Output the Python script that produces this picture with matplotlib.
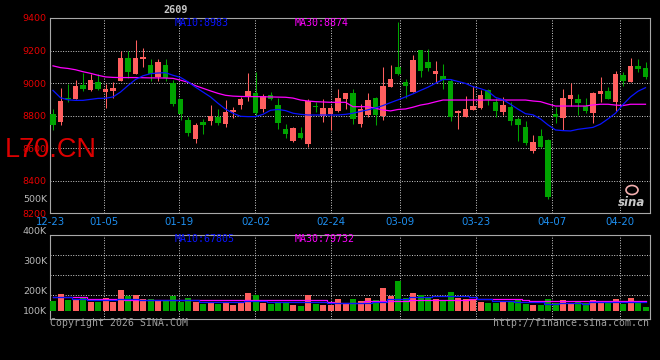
import matplotlib

matplotlib.use("Agg")
import matplotlib.pyplot as plt
from matplotlib.patches import Ellipse

W, H = 660, 360

# daily OHLC (L2609), 12-23 .. 04-24
opens = [8810, 8761, 8911, 8902, 8988, 8958, 9007, 8945, 8954, 9015,
         9156, 9058, 9150, 9111, 9035, 9111, 9001, 8902, 8773, 8659,
         8761, 8767, 8794, 8749, 8825, 8866, 8917, 8939, 8843, 8927,
         8866, 8718, 8646, 8693, 8626, 8857, 8798, 8808, 8829, 8902,
         8939, 8749, 8804, 8909, 8798, 8976, 9099, 9009, 8948, 9203,
         9130, 9054, 9044, 9013, 8818, 8794, 8835, 8845, 8958, 8882,
         8825, 8853, 8780, 8730, 8585, 8675, 8650, 8810, 8788, 8902,
         8902, 8859, 8818, 8933, 8952, 8886, 9050, 9009, 9105, 9093]
highs = [8843, 8970, 8997, 9021, 9064, 9056, 9054, 8993, 9009, 9199,
         9197, 9265, 9218, 9146, 9148, 9150, 9019, 8905, 8790, 8753,
         8779, 8866, 8841, 8896, 8855, 8913, 9060, 9068, 8933, 8943,
         8907, 8749, 8732, 8732, 8900, 8884, 8900, 8866, 8964, 8942,
         8964, 8872, 8939, 8912, 9099, 9111, 9375, 9023, 9173, 9205,
         9210, 9136, 9117, 9025, 8835, 8921, 8982, 8958, 8964, 8907,
         8913, 8882, 8794, 8767, 8681, 8718, 8655, 8855, 8964, 8999,
         8933, 8909, 8945, 9038, 8976, 9074, 9068, 9154, 9148, 9130]
lows = [8712, 8743, 8882, 8900, 8954, 8950, 8958, 8849, 8907, 9015,
        9029, 9058, 9097, 9015, 9015, 9015, 8859, 8771, 8675, 8634,
        8689, 8743, 8743, 8732, 8788, 8841, 8892, 8798, 8825, 8896,
        8716, 8663, 8640, 8659, 8605, 8821, 8763, 8712, 8825, 8841,
        8751, 8732, 8794, 8743, 8773, 8976, 9052, 8910, 8948, 9040,
        9077, 9003, 8964, 8769, 8718, 8794, 8835, 8839, 8866, 8794,
        8804, 8743, 8644, 8620, 8573, 8603, 8288, 8757, 8712, 8859,
        8804, 8818, 8757, 8886, 8902, 8831, 8982, 9009, 9068, 9025]
closes = [8743, 8892, 8900, 8982, 8964, 9019, 8966, 8962, 8972, 9156,
          9066, 9156, 9163, 9056, 9132, 9030, 8872, 8812, 8693, 8743,
          8745, 8798, 8757, 8823, 8835, 8900, 8952, 8819, 8921, 8905,
          8755, 8687, 8726, 8663, 8892, 8851, 8847, 8849, 8909, 8939,
          8780, 8841, 8896, 8804, 8982, 9025, 9056, 8982, 9142, 9077,
          9095, 9074, 9019, 8794, 8829, 8841, 8859, 8927, 8896, 8829,
          8866, 8767, 8743, 8632, 8638, 8608, 8298, 8794, 8909, 8927,
          8878, 8831, 8939, 8952, 8902, 9056, 9013, 9105, 9087, 9040]
ma10 = [8955, 8910, 8897, 8894, 8894, 8900, 8906, 8907, 8915, 8945,
        8985, 9022, 9045, 9058, 9062, 9064, 9048, 9035, 9008, 8975,
        8945, 8915, 8876, 8840, 8815, 8796, 8794, 8794, 8808, 8833,
        8838, 8831, 8815, 8808, 8804, 8804, 8804, 8804, 8804, 8808,
        8815, 8826, 8836, 8847, 8862, 8880, 8897, 8915, 8934, 8955,
        8975, 8999, 9022, 9022, 9010, 8998, 8978, 8966, 8950, 8912,
        8898, 8870, 8840, 8812, 8805, 8780, 8743, 8712, 8708, 8706,
        8716, 8722, 8728, 8748, 8780, 8815, 8868, 8915, 8950, 8972]
ma30 = [9106, 9095, 9090, 9082, 9070, 9060, 9048, 9038, 9035, 9034,
        9034, 9034, 9033, 9032, 9032, 9031, 9029, 9018, 9005, 8984,
        8968, 8952, 8937, 8925, 8920, 8918, 8917, 8917, 8916, 8915,
        8914, 8913, 8908, 8896, 8890, 8886, 8884, 8882, 8882, 8882,
        8855, 8855, 8855, 8845, 8835, 8829, 8838, 8841, 8852, 8865,
        8873, 8885, 8896, 8896, 8896, 8896, 8896, 8896, 8896, 8896,
        8896, 8896, 8896, 8896, 8890, 8886, 8872, 8859, 8859, 8859,
        8859, 8859, 8866, 8870, 8870, 8865, 8862, 8870, 8870, 8870]
volumes = [70.5, 105.5, 75.5, 75.5, 87, 67, 67, 84, 67, 125.5,
           95.5, 100.5, 79, 79, 72, 70.5, 95.5, 67, 87, 67,
           55.5, 62, 55.5, 59, 50.5, 59, 110.5, 99, 62, 55.5,
           67, 59, 50.5, 45.5, 99, 55.5, 50.5, 50.5, 80.5, 59,
           80.5, 70.5, 85.5, 75.5, 135.5, 97, 170.5, 87, 110.5, 99,
           87, 80.5, 70.5, 115.5, 84, 80.5, 75.5, 65.5, 59, 59,
           67, 67, 80.5, 55.5, 50.5, 50.5, 80.5, 59, 75.5, 55.5,
           65.5, 59, 75.5, 67, 59, 80.5, 55.5, 85.5, 62, 42]
vol_ma10 = [88.8, 88.8, 88.8, 79, 79, 75.5, 75.5, 75.5, 75.5, 80.5,
            80.5, 80.5, 75.5, 75.5, 75.5, 75.5, 75.5, 75.5, 75.5, 75.5,
            67, 67, 67, 67, 67, 67, 72, 72, 72, 67,
            67, 67, 67, 67, 67, 67, 67, 58.8, 58.8, 62,
            62, 62, 62, 67, 67, 80.5, 80.5, 80.5, 92, 92,
            92, 97, 97, 97, 97, 97, 88.8, 80.5, 80.5, 72,
            72, 72, 63.8, 63.8, 63.8, 63.8, 55.5, 55.5, 62, 62,
            62, 55.5, 65, 65, 65, 65, 65, 65, 65, 65]
vol_ma30 = [92.2, 92.2, 92.2, 92.2, 92.2, 80.5, 80.5, 80.5, 80.5, 80.5,
            75.5, 75.5, 75.5, 75.5, 75.5, 75.5, 75.5, 75.5, 75.5, 75.5,
            75.5, 75.5, 75.5, 75.5, 75.5, 75.5, 75.5, 75.5, 75.5, 75.5,
            75.5, 75.5, 75.5, 75.5, 75.5, 75.5, 75.5, 67, 58.8, 58.8,
            58.8, 58.8, 72, 72, 72, 72, 72, 72, 75.5, 75.5,
            75.5, 75.5, 75.5, 75.5, 75.5, 75.5, 80.5, 80.5, 80.5, 80.5,
            80.5, 80.5, 80.5, 75.5, 72, 72, 72, 72, 72, 72,
            72, 72, 72, 72, 70, 70, 70, 70, 70, 70]

date_labels = ["12-23", "01-05", "01-19", "02-02", "02-24", "03-09", "03-23", "04-07", "04-20"]
date_index = [0, 7, 17, 27, 37, 46, 56, 66, 75]
price_ticks = [8200, 8400, 8600, 8800, 9000, 9200, 9400]
vol_labels = ["400K", "300K", "200K", "100K"]

RED = "#ff5f5f"
GREEN = "#00a400"
GRID = "#d0d0d0"
FRAME = "#a8a8a8"
GREY = "#b8b8b8"
AXIS_RED = "#e60000"
DATE_BLUE = "#1e8ff0"
MA_BLUE = "#0a14ff"
MA_PINK = "#ff00ff"
VOL_BASE = 20_000  # sina draws bars up from a small floor


def px(x, y):
    return x / W, 1 - y / H


fig = plt.figure(figsize=(W / 100, H / 100), dpi=100, facecolor="black")
ax = fig.add_axes([50 / W, 1 - 213.3 / H, 600 / W, 195.3 / H], facecolor="black")
axv = fig.add_axes([50 / W, 1 - 318.7 / H, 600 / W, 84 / H], facecolor="black")

n = len(closes)
xs = list(range(n))
# the date grid runs on a slightly different step than the candles
grid_pos = [k * n / (n - 1) - 0.35 for k in date_index]

for a in (ax, axv):
    a.set_xlim(-0.4, n - 0.4)
    for s in a.spines.values():
        s.set_color(FRAME)
        s.set_linewidth(0.8)
    a.set_xticks(grid_pos)
    a.grid(True, color=GRID, linestyle=(0, (1, 1.6)), linewidth=0.7)
    a.set_axisbelow(True)
    a.tick_params(length=0)

# price panel
ax.set_ylim(8200, 9400)
ax.set_yticks(price_ticks)
ax.set_yticklabels([str(t) for t in price_ticks], color=AXIS_RED, fontsize=6.8, family="DejaVu Sans")
ax.tick_params(axis="y", pad=2.6)
ax.set_xticklabels(date_labels, color=DATE_BLUE, fontsize=7.3, family="DejaVu Sans")
ax.tick_params(axis="x", pad=2.9)

cols = [RED if c >= o else GREEN for o, c in zip(opens, closes)]
ax.vlines(xs, lows, highs, colors=cols, linewidth=0.75, zorder=3)
bottoms = [min(o, c) for o, c in zip(opens, closes)]
heights = [max(abs(c - o), 6) for o, c in zip(opens, closes)]
ax.bar(xs, heights, bottom=bottoms, width=0.78, color=cols, linewidth=0, zorder=4)
ax.plot(xs, ma30, color=MA_PINK, linewidth=0.9, zorder=5)
ax.plot(xs, ma10, color=MA_BLUE, linewidth=0.9, zorder=5)

# volume panel
axv.set_ylim(-18_000, 402_000)
axv.set_yticks([100_000, 200_000, 300_000])
axv.set_yticklabels([])
axv.set_xticklabels([])
vol = [v * 1000 for v in volumes]
axv.bar(xs, [v - VOL_BASE for v in vol], bottom=VOL_BASE, width=0.8, color=cols, linewidth=0, zorder=3)
axv.plot(xs, [v * 1000 for v in vol_ma30], color=MA_PINK, linewidth=0.9, drawstyle="steps-mid", zorder=4)
axv.plot(xs, [v * 1000 for v in vol_ma10], color=MA_BLUE, linewidth=0.9, drawstyle="steps-mid", zorder=4)

# texts
mono = "DejaVu Sans Mono"
fig.text(*px(176, 10), "2609", color="#c8c8c8", fontsize=7.3, family=mono, fontweight="bold", ha="center", va="center")
fig.text(*px(175, 23), "MA10:8983", color=MA_BLUE, fontsize=7.2, family=mono, va="center")
fig.text(*px(295, 23), "MA30:8874", color=MA_PINK, fontsize=7.2, family=mono, va="center")
fig.text(*px(175, 238.5), "MA10:67805", color=MA_BLUE, fontsize=7.2, family=mono, va="center")
fig.text(*px(295, 238.5), "MA30:79732", color=MA_PINK, fontsize=7.2, family=mono, va="center")
fig.text(*px(5, 150), "L70.CN", color="#dd0000", fontsize=19.5, family="Liberation Sans", va="center")
fig.text(*px(47, 200), "500K", color=GREY, fontsize=6.8, ha="right", va="center")
for lab, y in zip(vol_labels, [231, 261, 291, 311]):
    fig.text(*px(47, y), lab, color=GREY, fontsize=6.8, ha="right", va="center")
fig.text(*px(50, 323), "Copyright 2026 SINA.COM", color="#a0a0a0", fontsize=7.1, family=mono, va="center")
fig.text(*px(649, 323), "http://finance.sina.com.cn", color="#a0a0a0", fontsize=7.1, family=mono, ha="right", va="center")

# sina logo
eye = Ellipse(px(632, 190), 12 / W, 9 / H, transform=fig.transFigure, fill=False, edgecolor="#f4b0b0", linewidth=1.2)
fig.patches.append(eye)
fig.text(*px(632, 202), "sina", color="#c8c8c8", fontsize=8.5, fontweight="bold", style="italic", ha="center", va="center")

fig.savefig("out.png", dpi=100, facecolor="black")
